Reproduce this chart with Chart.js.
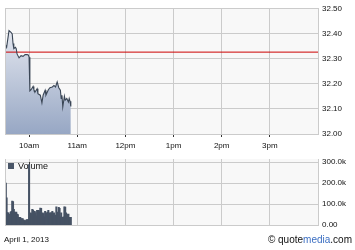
<!DOCTYPE html>
<html lang="en">
<head>
  <meta charset="UTF-8" />
  <title>Intraday Chart</title>
  <script src="https://cdn.jsdelivr.net/npm/chart.js"></script>
  <style>
    body { margin: 0; background: #ffffff; font-family: "Liberation Sans", Arial, sans-serif; }
    .wrap { position: relative; width: 355px; height: 250px; overflow: hidden; }
    #priceChart { position: absolute; left: 0; top: 0; }
    #volumeChart { position: absolute; left: 0; top: 150px; }
    .date { position: absolute; left: 4px; top: 235px; font-size: 8px; color: #111; }
    .credit { position: absolute; right: 3px; top: 234px; font-size: 10px; color: #111; }
    .credit span { color: #3c6fc2; }
  </style>
</head>
<body>
  <div class="wrap">
    <canvas id="priceChart" width="355" height="152"></canvas>
    <canvas id="volumeChart" width="355" height="84"></canvas>
    <div class="date">April 1, 2013</div>
    <div class="credit">&copy; quote<span>media</span>.com</div>
  </div>

  <script>
    // minutes after 9:30 open
    const priceTimes = [0, 1, 2, 5, 7.5, 9, 10, 11, 13, 14, 15, 17.5, 20, 22.5, 25, 27.5, 29, 30, 31, 32.5,
      35, 36, 37.5, 40, 41, 44, 46, 47.5, 50, 51, 54, 56, 59, 61, 63, 65, 67, 69, 70, 71,
      72, 74, 75, 77, 79, 80, 81, 82];
    const prices = [32.35, 32.353, 32.346, 32.413, 32.406, 32.40, 32.361, 32.341, 32.346, 32.341, 32.32, 32.304, 32.313, 32.31, 32.317, 32.317, 32.316, 32.307, 32.172, 32.177,
      32.19, 32.177, 32.168, 32.181, 32.161, 32.155, 32.124, 32.155, 32.175, 32.155, 32.177, 32.185, 32.188, 32.194, 32.188, 32.208, 32.185, 32.175, 32.142, 32.155,
      32.108, 32.151, 32.135, 32.142, 32.128, 32.142, 32.131, 32.11];
    const prevClose = 32.327;

    // one bar per minute from 9:30
    const volumes = [221000, 200000, 130000, 60000, 59000, 52000, 53000, 62000, 66000, 115000,
      112000, 75000, 62000, 60000, 62000, 53000, 50000, 37000, 38000, 37000,
      31000, 30000, 31000, 25000, 22000, 22000, 21000, 27000, 26000, 27000,
      288000, 40000, 59000, 55000, 75000, 72000, 37000, 66000, 60000, 44000,
      71000, 37000, 71000, 65000, 81000, 80000, 44000, 59000, 55000, 40000,
      66000, 44000, 59000, 62000, 71000, 37000, 59000, 58000, 60000, 66000,
      37000, 59000, 44000, 48000, 88000, 62000, 37000, 85000, 80000, 40000,
      59000, 37000, 37000, 40000, 88000, 86000, 59000, 53000, 50000, 53000,
      37000, 37000, 37000];

    const hourTicks = [30, 90, 150, 210, 270, 330];
    const hourLabels = ['10am', '11am', '12pm', '1pm', '2pm', '3pm'];
    const priceTicks = [32.0, 32.1, 32.2, 32.3, 32.4, 32.5];
    const volumeTicks = [0, 100000, 200000, 300000];

    const gridColor = '#cbcbcb';
    const font = { family: '"Liberation Sans", Arial, sans-serif', size: 8 };

    // plot background + left frame line
    const plotFrame = {
      id: 'plotFrame',
      beforeDraw(chart) {
        const { ctx, chartArea: a } = chart;
        ctx.save();
        ctx.fillStyle = '#f8f8f8';
        ctx.fillRect(a.left, a.top, a.right - a.left, a.bottom - a.top);
        ctx.restore();
      },
      afterDraw(chart) {
        const { ctx, chartArea: a } = chart;
        ctx.save();
        ctx.strokeStyle = gridColor;
        ctx.lineWidth = 1;
        ctx.beginPath();
        ctx.moveTo(a.left + 0.5, a.top);
        ctx.lineTo(a.left + 0.5, a.bottom);
        ctx.stroke();
        ctx.restore();
      }
    };

    const volumeKey = {
      id: 'volumeKey',
      beforeDatasetsDraw(chart) {
        const { ctx, chartArea: a } = chart;
        ctx.save();
        ctx.fillStyle = '#4a5668';
        ctx.fillRect(a.left + 3, a.top + 4, 6, 6);
        ctx.fillStyle = '#111';
        ctx.font = '9px "Liberation Sans", Arial, sans-serif';
        ctx.textBaseline = 'middle';
        ctx.fillText('Volume', a.left + 13, a.top + 7.5);
        ctx.restore();
      }
    };

    function xScale(showLabels) {
      return {
        type: 'linear', min: 0, max: 390, offset: false,
        afterBuildTicks: s => { s.ticks = hourTicks.map(v => ({ value: v })); },
        afterFit: s => { s.height = showLabels ? 18 : 4; },
        grid: { color: gridColor, offset: false, drawTicks: showLabels, tickLength: 3, tickColor: '#333' },
        border: { color: gridColor },
        ticks: {
          display: showLabels, autoSkip: false, maxRotation: 0, padding: 4,
          color: '#111', font: font,
          callback: (v, i) => hourLabels[i]
        }
      };
    }

    new Chart(document.getElementById('priceChart'), {
      type: 'line',
      data: {
        datasets: [{
          data: priceTimes.map((t, i) => ({ x: t, y: prices[i] })),
          borderColor: '#3a4656',
          borderWidth: 1.1,
          pointRadius: 0,
          tension: 0,
          fill: 'start',
          backgroundColor: ctx => {
            const a = ctx.chart.chartArea;
            if (!a) return '#d0d8e6';
            const g = ctx.chart.ctx.createLinearGradient(0, a.top, 0, a.bottom);
            g.addColorStop(0, '#f3f4f8');
            g.addColorStop(1, '#97a7c4');
            return g;
          }
        }, {
          data: [{ x: 0, y: prevClose }, { x: 390, y: prevClose }],
          borderColor: '#cc0000',
          borderWidth: 1,
          pointRadius: 0,
          fill: false
        }]
      },
      options: {
        responsive: false,
        animation: false,
        layout: { padding: { left: 5, top: 8, right: 0, bottom: 0 }, autoPadding: false },
        plugins: { legend: { display: false }, tooltip: { enabled: false }, filler: { drawTime: 'beforeDatasetsDraw' } },
        scales: {
          x: xScale(true),
          y: {
            position: 'right', min: 32.0, max: 32.5,
            afterBuildTicks: s => { s.ticks = priceTicks.map(v => ({ value: v })); },
            afterFit: s => { s.width = 37; },
            grid: { color: gridColor, drawTicks: false },
            border: { color: gridColor },
            ticks: { padding: 4, color: '#111', font: font, callback: v => v.toFixed(2) }
          }
        }
      },
      plugins: [plotFrame]
    });

    new Chart(document.getElementById('volumeChart'), {
      type: 'bar',
      data: {
        datasets: [{
          data: volumes.map((v, i) => ({ x: i, y: v })),
          backgroundColor: '#465264',
          barThickness: 1.4,
          barPercentage: 1,
          categoryPercentage: 1
        }]
      },
      options: {
        responsive: false,
        animation: false,
        layout: { padding: { left: 5, top: 9, right: 0, bottom: 0 }, autoPadding: false },
        plugins: { legend: { display: false }, tooltip: { enabled: false } },
        scales: {
          x: xScale(false),
          y: {
            position: 'right', min: 0, max: 315000,
            afterBuildTicks: s => { s.ticks = volumeTicks.map(v => ({ value: v })); },
            afterFit: s => { s.width = 37; },
            grid: { color: gridColor, drawTicks: false },
            border: { color: gridColor },
            ticks: {
              padding: 4, color: '#111', font: font,
              callback: v => v === 0 ? '0.00' : (v / 1000).toFixed(1) + 'k'
            }
          }
        }
      },
      plugins: [plotFrame, volumeKey]
    });
  </script>
</body>
</html>
